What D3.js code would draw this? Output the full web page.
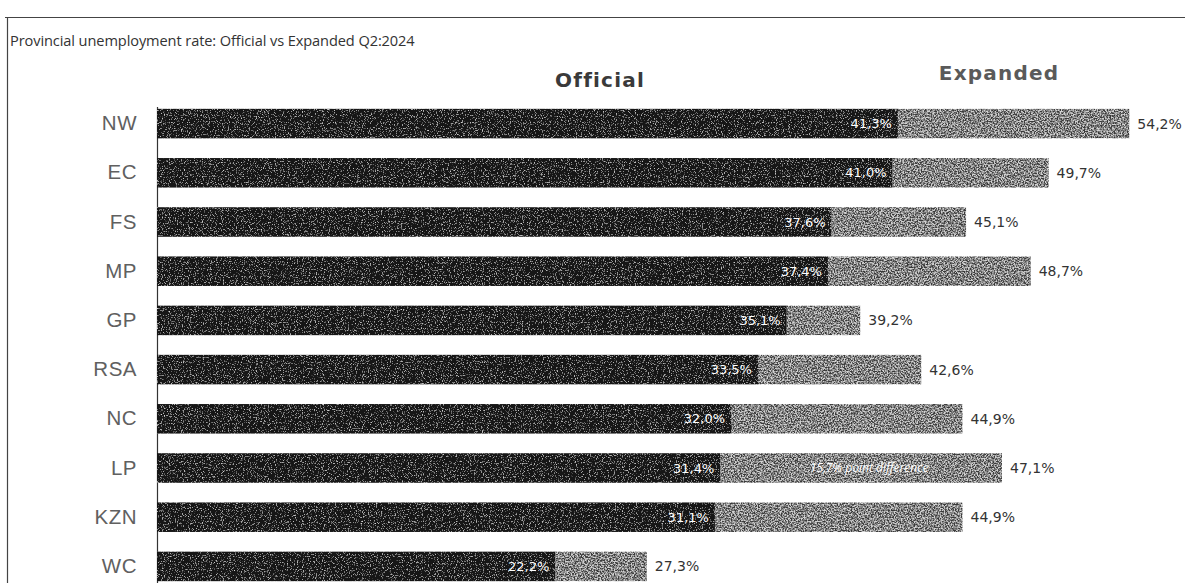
<!DOCTYPE html>
<html>
<head>
<meta charset="utf-8">
<script src="https://cdn.jsdelivr.net/npm/d3@7/dist/d3.min.js"></script>
<style>
  html, body { margin: 0; padding: 0; background: #fff; }
  svg { display: block; }
</style>
</head>
<body>
<svg id="chart" width="1185" height="583"></svg>
<script>
// Provincial unemployment rates, Q2:2024 (%)
const provinces = ["NW", "EC", "FS", "MP", "GP", "RSA", "NC", "LP", "KZN", "WC"];
const officialRate = [41.3, 41.0, 37.6, 37.4, 35.1, 33.5, 32.0, 31.4, 31.1, 22.2];
const expandedRate = [54.2, 49.7, 45.1, 48.7, 39.2, 42.6, 44.9, 47.1, 44.9, 27.3];
const seriesNames = ["Official", "Expanded"];
const noteProvince = "LP";

const rows = provinces.map((p, i) => ({ p, off: officialRate[i], exp: expandedRate[i] }));
const fmt = v => d3.format(".1f")(v).replace(".", ",") + "%";

const svg = d3.select("#chart");
const defs = svg.append("defs");

// Light speckle texture for the dark bars
const grain = defs.append("filter").attr("id", "grain")
  .attr("x", 0).attr("y", 0).attr("width", 1).attr("height", 1);
grain.append("feTurbulence").attr("type", "fractalNoise")
  .attr("baseFrequency", 0.85).attr("numOctaves", 2).attr("seed", 3).attr("result", "noise");
grain.append("feColorMatrix").attr("in", "noise").attr("type", "matrix")
  .attr("values", "0 0 0 0 1  0 0 0 0 1  0 0 0 0 1  2.2 0 0 0 -1.25").attr("result", "specks");
grain.append("feComposite").attr("in", "specks").attr("in2", "SourceGraphic")
  .attr("operator", "in").attr("result", "maskedSpecks");
grain.append("feMerge").selectAll("feMergeNode")
  .data(["SourceGraphic", "maskedSpecks"]).join("feMergeNode").attr("in", d => d);

// Light-and-dark speckle texture for the grey bars
const grain2 = defs.append("filter").attr("id", "grain2")
  .attr("color-interpolation-filters", "sRGB")
  .attr("x", 0).attr("y", 0).attr("width", 1).attr("height", 1);
grain2.append("feTurbulence").attr("type", "fractalNoise")
  .attr("baseFrequency", 0.7).attr("numOctaves", 2).attr("seed", 7).attr("result", "noise");
grain2.append("feColorMatrix").attr("in", "noise").attr("type", "matrix")
  .attr("values", "1 0 0 0 0  1 0 0 0 0  1 0 0 0 0  0 0 0 0 1").attr("result", "gray");
grain2.append("feComponentTransfer").attr("in", "gray").attr("result", "contrast")
  .call(g => ["feFuncR", "feFuncG", "feFuncB"].forEach(f =>
    g.append(f).attr("type", "linear").attr("slope", 3.2).attr("intercept", -1.1)));
grain2.append("feComposite").attr("in", "SourceGraphic").attr("in2", "contrast")
  .attr("operator", "arithmetic").attr("k1", 0).attr("k2", 0.55).attr("k3", 0.6).attr("k4", -0.08)
  .attr("result", "mix");
grain2.append("feComposite").attr("in", "mix").attr("in2", "SourceGraphic").attr("operator", "in");

// Frame lines
svg.append("line").attr("x1", 5).attr("x2", 1185).attr("y1", 17.5).attr("y2", 17.5)
  .attr("stroke", "#444").attr("stroke-width", 1);
svg.append("line").attr("x1", 7.5).attr("x2", 7.5).attr("y1", 17).attr("y2", 583)
  .attr("stroke", "#444").attr("stroke-width", 1.2);

// Title
svg.append("text").attr("x", 10).attr("y", 46)
  .attr("font-family", "'Open Sans', sans-serif").attr("font-size", 14.6)
  .attr("letter-spacing", -0.1)
  .attr("fill", "#333").text("Provincial unemployment rate: Official vs Expanded Q2:2024");

const x = d3.scaleLinear().domain([0, 10]).range([157, 336.4]);
const y = d3.scaleBand().domain(provinces).range([99, 591]).paddingInner(0.4).paddingOuter(0.2);

// Series headings
svg.append("text").attr("x", 600).attr("y", 87).attr("text-anchor", "middle")
  .attr("font-family", "'DejaVu Sans', sans-serif").attr("font-weight", "bold")
  .attr("font-size", 20).attr("letter-spacing", 1.2).attr("fill", "#3a3a3a")
  .text(seriesNames[0]);
svg.append("text").attr("x", 999).attr("y", 80).attr("text-anchor", "middle")
  .attr("font-family", "'DejaVu Sans', sans-serif").attr("font-weight", "bold")
  .attr("font-size", 20).attr("letter-spacing", 1.2).attr("fill", "#5a5a5a")
  .text(seriesNames[1]);

// Category axis
const yAxis = svg.append("g").attr("transform", `translate(${x(0)},0)`)
  .call(d3.axisLeft(y).tickSize(0).tickPadding(20));
yAxis.select(".domain").attr("stroke", "#333").attr("stroke-width", 1.2)
  .attr("d", "M0.5,107V583");
yAxis.selectAll("text").attr("font-family", "'Liberation Sans', Arial, sans-serif")
  .attr("font-size", 20.5).attr("letter-spacing", 0.5).attr("fill", "#606060");

const bars = svg.append("g");

// Expanded portion: from official rate to expanded rate
bars.selectAll("rect.exp").data(rows).join("rect").attr("class", "exp")
  .attr("x", d => x(d.off)).attr("width", d => x(d.exp) - x(d.off))
  .attr("y", d => y(d.p)).attr("height", y.bandwidth())
  .attr("fill", "#8c8c8c").attr("filter", "url(#grain2)");

// Official bars
bars.selectAll("rect.off").data(rows).join("rect").attr("class", "off")
  .attr("x", x(0)).attr("width", d => x(d.off) - x(0))
  .attr("y", d => y(d.p)).attr("height", y.bandwidth())
  .attr("fill", "#151515").attr("filter", "url(#grain)");

// Value labels
bars.selectAll("text.off").data(rows).join("text").attr("class", "off")
  .attr("x", d => x(d.off) - 6).attr("y", d => y(d.p) + y.bandwidth() / 2)
  .attr("dy", "0.36em").attr("text-anchor", "end")
  .attr("font-family", "'DejaVu Sans', sans-serif").attr("font-size", 13)
  .attr("fill", "#fff").text(d => fmt(d.off));

bars.selectAll("text.exp").data(rows).join("text").attr("class", "exp")
  .attr("x", d => x(d.exp) + 8).attr("y", d => y(d.p) + y.bandwidth() / 2)
  .attr("dy", "0.36em").attr("text-anchor", "start")
  .attr("font-family", "'DejaVu Sans', sans-serif").attr("font-size", 14)
  .attr("fill", "#333").text(d => fmt(d.exp));

// Gap annotation
const noteRow = rows.find(r => r.p === noteProvince);
bars.append("text")
  .attr("x", (x(noteRow.off) + x(noteRow.exp)) / 2 + 8)
  .attr("y", y(noteRow.p) + y.bandwidth() / 2).attr("dy", "0.36em")
  .attr("text-anchor", "middle").attr("font-family", "'Open Sans', sans-serif")
  .attr("font-style", "italic").attr("font-size", 12).attr("fill", "#fff")
  .text(`${fmt(noteRow.exp - noteRow.off)} point difference`);
</script>
</body>
</html>
